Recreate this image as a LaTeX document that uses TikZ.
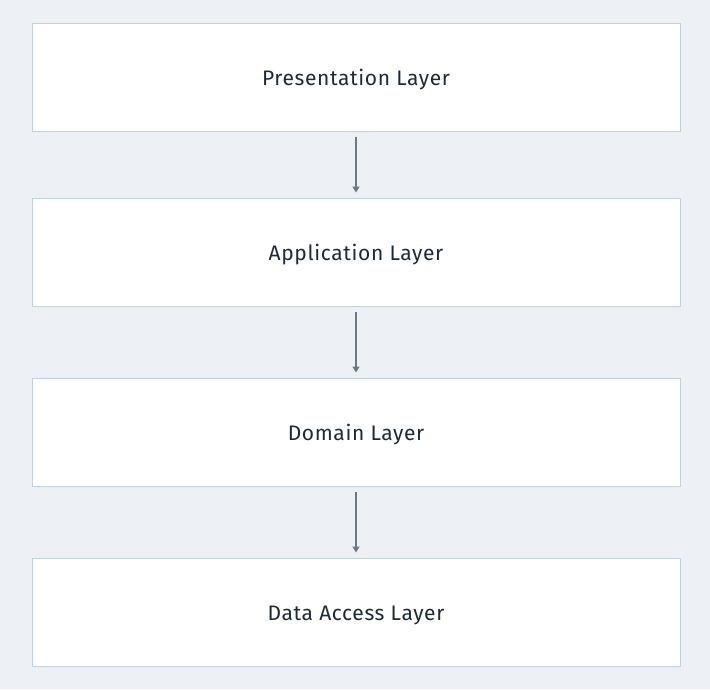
\documentclass[tikz,border=0pt]{standalone}
\usepackage{fontspec}
\setmainfont{Fira Sans}[LetterSpace=3]
\usetikzlibrary{arrows.meta}
\definecolor{bg}{HTML}{EDF1F5}
\definecolor{boxline}{HTML}{C3CFDB}
\definecolor{arrowc}{HTML}{6B7886}
\definecolor{txt}{HTML}{1F2A37}
\tikzset{
  layer/.style={draw=boxline, line width=1pt, fill=white, minimum width=648pt, minimum height=108pt, inner sep=0pt, text=txt, font=\fontsize{21}{24}\selectfont},
  lbl/.style={text=txt, font=\fontsize{21}{24}\selectfont, anchor=base, inner sep=0pt},
  flow/.style={draw=arrowc, line width=2.2pt, -{Triangle[length=6pt,width=7pt]}, shorten >=5pt, shorten <=5pt}
}
\begin{document}
\begin{tikzpicture}[x=1pt,y=-1pt]
\fill[bg] (0,0) rectangle (710,689);
\useasboundingbox (0,0) rectangle (710,689);
\node[layer] (p) at (356,77) {};
\node[layer] (a) at (356,252) {};
\node[layer] (d) at (356,432) {};
\node[layer] (da) at (356,612) {};
\node[lbl] (pt) at ([yshift=-8pt]p.center) {Presentation Layer};
\node[lbl] (at) at ([yshift=-8pt]a.center) {Application Layer};
\node[lbl] (dt) at ([yshift=-8pt]d.center) {Domain Layer};
\node[lbl] (dat) at ([yshift=-8pt]da.center) {Data Access Layer};
\draw[flow] (p.south) -- (a.north);
\draw[flow] (a.south) -- (d.north);
\draw[flow] (d.south) -- (da.north);
\end{tikzpicture}
\end{document}
